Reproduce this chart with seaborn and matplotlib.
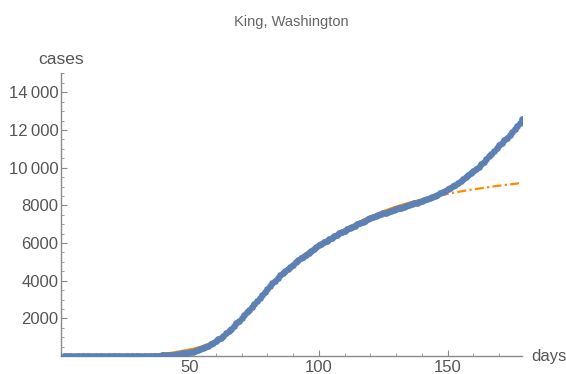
import matplotlib
matplotlib.use('Agg')
import matplotlib.pyplot as plt
import matplotlib.ticker as mticker
import seaborn as sns

# Reported cumulative cases, King County (one value per day, day 1..179)
cases = [
    0, 0, 0, 0, 0, 0, 0, 0, 0, 0,
    0, 0, 0, 0, 0, 0, 0, 0, 0, 0,
    0, 0, 0, 0, 0, 0, 0, 0, 0, 0,
    1, 2, 3, 5, 8, 12, 17, 23, 30, 38,
    45, 55, 65, 80, 100, 120, 140, 160, 180, 200,
    235, 275, 320, 370, 420, 480, 550, 620, 700, 780,
    880, 980, 1090, 1200, 1320, 1450, 1590, 1730, 1870, 2020,
    2170, 2320, 2470, 2620, 2770, 2940, 3100, 3260, 3420, 3580,
    3730, 3870, 4010, 4150, 4290, 4410, 4530, 4640, 4750, 4860,
    4970, 5080, 5180, 5280, 5380, 5480, 5580, 5680, 5780, 5870,
    5960, 6040, 6120, 6200, 6280, 6360, 6440, 6510, 6580, 6650,
    6720, 6790, 6860, 6930, 7000, 7060, 7130, 7190, 7250, 7310,
    7370, 7430, 7480, 7530, 7580, 7620, 7670, 7710, 7760, 7800,
    7840, 7880, 7920, 7960, 8000, 8050, 8100, 8150, 8200, 8250,
    8300, 8350, 8410, 8460, 8510, 8570, 8630, 8700, 8780, 8860,
    8940, 9020, 9100, 9190, 9280, 9380, 9480, 9590, 9700, 9810,
    9930, 10060, 10190, 10320, 10460, 10600, 10750, 10900, 11040, 11180,
    11320, 11460, 11600, 11750, 11900, 12050, 12200, 12380, 12600,
]
days = list(range(1, len(cases) + 1))

# Logistic fit, over the fitted range (solid) and extrapolated (dot-dashed)
fit_days = [1, 10, 20, 25, 30, 33, 36, 39, 42, 45, 48, 51, 54, 57, 60, 63, 66,
            69, 72, 75, 78, 81, 84, 87, 90, 93, 96, 99, 102, 105, 108, 111, 114,
            117, 120, 123, 126, 129, 132, 135, 138, 141, 144, 147]
fit_vals = [0, 3, 10, 18, 30, 42, 60, 100, 150, 215, 290, 370, 480, 630, 830, 1090,
            1430, 1860, 2330, 2800, 3270, 3730, 4160, 4560, 4920, 5250, 5560,
            5840, 6100, 6350, 6580, 6800, 7010, 7210, 7400, 7570, 7730, 7880,
            8010, 8130, 8240, 8340, 8440, 8530]
ext_days = [147, 150, 153, 156, 159, 162, 165, 168, 171, 174, 177, 178]
ext_vals = [8530, 8610, 8690, 8760, 8830, 8890, 8950, 9010, 9060, 9110, 9160, 9175]

blue = '#5E81B5'
orange = '#FF8A00'
grey = '#8a8a8a'
text_grey = '#555555'

sns.set_style('white')
plt.rcParams['font.family'] = ['Liberation Sans', 'DejaVu Sans']

fig = plt.figure(figsize=(5.66, 3.74), dpi=100)
ax = fig.add_axes([0.108, 0.048, 0.815, 0.757])

sns.lineplot(x=fit_days, y=fit_vals, ax=ax, color=orange, linewidth=1.8, zorder=2)
sns.lineplot(x=ext_days, y=ext_vals, ax=ax, color=orange, linewidth=1.6, zorder=2)
ax.lines[-1].set_dashes((4, 1.5, 1, 1.5))
sns.scatterplot(x=days, y=cases, ax=ax, color=blue, s=24, linewidth=0, zorder=3)

ax.set_xlim(0, 179)
ax.set_ylim(0, 15030)

ax.xaxis.set_major_locator(mticker.FixedLocator([50, 100, 150]))
ax.xaxis.set_minor_locator(mticker.MultipleLocator(10))
ax.yaxis.set_major_locator(mticker.FixedLocator(list(range(2000, 15000, 2000))))
ax.yaxis.set_minor_locator(mticker.MultipleLocator(500))


def fmt(v, pos):
    v = int(round(v))
    if v >= 10000:
        return f'{v // 1000}\u2009{v % 1000:03d}'
    return str(v)


ax.yaxis.set_major_formatter(mticker.FuncFormatter(fmt))

for side in ['top', 'right']:
    ax.spines[side].set_visible(False)
for side in ['left', 'bottom']:
    ax.spines[side].set_color(grey)
    ax.spines[side].set_linewidth(1.0)

ax.tick_params(which='both', bottom=True, left=True, top=False, right=False)
ax.tick_params(which='major', direction='in', length=4, width=0.8, color=grey,
               labelcolor=text_grey, labelsize=12, pad=2)
ax.tick_params(which='minor', direction='in', length=2.5, width=0.6, color=grey)
ax.tick_params(axis='x', which='major', pad=3)

ax.set_xlabel('')
ax.set_ylabel('')
ax.text(0, 15350, 'cases', ha='center', va='bottom', fontsize=12.5, color=text_grey)
ax.text(182.5, 0, 'days', ha='left', va='center', fontsize=12, color=text_grey)
ax.set_title('King, Washington', fontsize=10.5, color='#666666', pad=34)

fig.savefig('out.png', dpi=100)
